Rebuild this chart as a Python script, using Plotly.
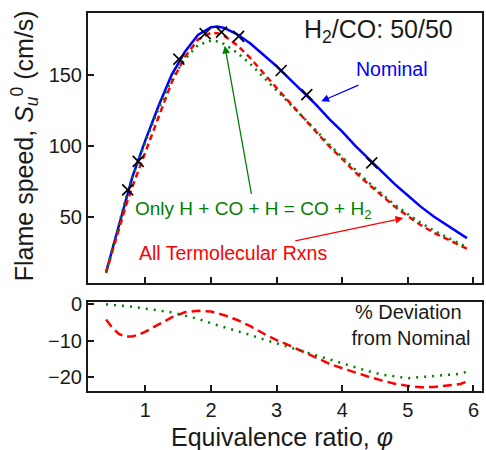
import plotly.graph_objects as go

# ---- data ----
phi = [0.4, 0.5, 0.6, 0.7, 0.8, 0.9, 1.0, 1.2, 1.4, 1.6, 1.8, 2.0, 2.1, 2.2, 2.4,
       2.6, 2.8, 3.0, 3.2, 3.4, 3.6, 3.8, 4.0, 4.2, 4.4, 4.6, 4.8, 5.0, 5.2, 5.4,
       5.6, 5.8, 5.9]
s_nominal = [11, 28, 45, 63, 78, 91, 104, 128, 150, 166, 178, 183.5, 184, 183, 178.5,
             172, 164, 156, 147, 138, 129, 119, 110, 100, 91, 82, 73, 65, 57, 50,
             44, 38, 35]
s_termol = [10.5, 26.2, 41.3, 57.5, 71.1, 83.4, 96.2, 121, 144.6, 162.4, 174.8, 179.5, 179.2, 177.5, 170.8,
            161.7, 150.9, 140.7, 130.4, 120.1, 110, 99.7, 90.8, 81.3, 73, 64.9, 57.2, 50.5, 44.1, 38.7,
            34.2, 29.7, 27.6]
s_hco = [11, 28, 44.9, 62.7, 77.5, 90.1, 102.8, 125.8, 146.7, 161, 170.9, 174, 173.5, 171.7, 165.5,
         157.6, 148.3, 139.3, 129.7, 120.2, 110.9, 100.9, 92.1, 82.7, 74.3, 66.3, 58.5, 51.9, 45.7, 40.2,
         35.5, 30.8, 28.6]
dev_termol = [-4.2, -6.5, -8.2, -8.8, -8.8, -8.3, -7.5, -5.5, -3.6, -2.2, -1.8, -2.0, -2.4, -3.0, -4.3,
              -6.0, -8.0, -9.8, -11.3, -13.0, -14.7, -16.2, -17.5, -18.7, -19.8, -20.8, -21.7, -22.3, -22.7, -22.6,
              -22.3, -21.8, -21.1]
dev_hco = [0, -0.1, -0.3, -0.5, -0.7, -1.0, -1.2, -1.7, -2.2, -3.0, -4.0, -5.2, -5.7, -6.2, -7.3,
           -8.4, -9.6, -10.7, -11.8, -12.9, -14.0, -15.2, -16.3, -17.3, -18.3, -19.2, -19.8, -20.2, -19.9, -19.6,
           -19.4, -19.0, -18.4]
exp_phi = [0.73, 0.89, 1.51, 1.91, 2.16, 2.42, 3.07, 3.46, 4.45]
exp_s = [69, 89, 161, 179, 180, 177, 153, 136, 88]

top_yticks = [50, 100, 150]
bot_yticks = [0, -10, -20]
xticks = [1, 2, 3, 4, 5, 6]

FONT = "Liberation Sans, Arial, sans-serif"
BLUE, RED, GREEN = "#0000ff", "#ff0000", "#008000"
INK = "#1a1a1a"

fig = go.Figure()
# top panel
fig.add_trace(go.Scatter(x=phi, y=s_nominal, mode="lines", line=dict(color=BLUE, width=2.5),
                         xaxis="x", yaxis="y", showlegend=False))
fig.add_trace(go.Scatter(x=phi, y=s_termol, mode="lines", line=dict(color=RED, width=2.5, dash="6px,4px"),
                         xaxis="x", yaxis="y", showlegend=False))
fig.add_trace(go.Scatter(x=phi, y=s_hco, mode="lines", line=dict(color=GREEN, width=2.5, dash="2px,5px"),
                         xaxis="x", yaxis="y", showlegend=False))
fig.add_trace(go.Scatter(x=exp_phi, y=exp_s, mode="markers",
                         marker=dict(symbol="x-thin", size=11, line=dict(color="black", width=1.6)),
                         xaxis="x", yaxis="y", showlegend=False))
# bottom panel
fig.add_trace(go.Scatter(x=phi, y=dev_termol, mode="lines", line=dict(color=RED, width=2.5, dash="9px,5px"),
                         xaxis="x2", yaxis="y2", showlegend=False))
fig.add_trace(go.Scatter(x=phi, y=dev_hco, mode="lines", line=dict(color=GREEN, width=2.5, dash="2px,6px"),
                         xaxis="x2", yaxis="y2", showlegend=False))

axcommon = dict(showline=True, mirror=True, linecolor=INK, linewidth=2, ticks="inside",
                ticklen=6, tickwidth=1.5, tickcolor=INK, showgrid=False, zeroline=False,
                tickfont=dict(family=FONT, size=20, color=INK))

fig.update_layout(
    width=486, height=450, autosize=False,
    margin=dict(l=88, r=2, t=13, b=59),
    paper_bgcolor="white", plot_bgcolor="white",
    font=dict(family=FONT, color=INK),
    xaxis=dict(domain=[0, 1], range=[0.125, 6.13], tickvals=xticks, showticklabels=False,
               anchor="y", **axcommon),
    yaxis=dict(domain=[0.2857, 1], range=[3.4, 193.5], tickvals=top_yticks, anchor="x", **axcommon),
    xaxis2=dict(domain=[0, 1], range=[0.125, 6.13], tickvals=xticks, anchor="y2", **axcommon),
    yaxis2=dict(domain=[0, 0.2354], range=[-23.7, 0.6], tickvals=bot_yticks, anchor="x2", **axcommon),
)

ann = []
# axis titles
ann.append(dict(text="Flame speed, <i>S</i><sub><i>u</i></sub><sup>0</sup> (cm/s)", xref="paper", yref="paper",
                x=-0.16, y=0.65, textangle=-90, showarrow=False, xanchor="center", yanchor="middle",
                font=dict(size=25, family=FONT, color=INK)))
ann.append(dict(text="Equivalence ratio, <i>φ</i>", xref="paper", yref="paper",
                x=0.492, y=-0.122, showarrow=False, xanchor="center", yanchor="middle",
                font=dict(size=25, family=FONT, color=INK)))
# panel labels
ann.append(dict(text="H<sub>2</sub>/CO: 50/50", xref="x", yref="y", x=4.55, y=181, showarrow=False,
                xanchor="center", yanchor="middle", font=dict(size=25, family=FONT, color=INK)))
ann.append(dict(text="% Deviation<br> from Nominal", xref="x2", yref="y2", x=5.0, y=-5.8, showarrow=False,
                xanchor="center", yanchor="middle", align="center",
                font=dict(size=20, family=FONT, color=INK)))
# curve labels with arrows
ann.append(dict(text="Nominal", xref="x", yref="y", x=4.76, y=154, showarrow=False,
                xanchor="center", yanchor="middle", font=dict(size=19.5, family=FONT, color=BLUE)))
ann.append(dict(x=3.68, y=131.3, ax=4.27, ay=143.2, xref="x", yref="y", axref="x", ayref="y",
                showarrow=True, arrowhead=2, arrowsize=1.2, arrowwidth=1.3, arrowcolor=BLUE, text=""))
ann.append(dict(text="Only H + CO + H = CO + H<sub>2</sub>", xref="x", yref="y", x=2.64, y=54.5,
                showarrow=False, xanchor="center", yanchor="middle",
                font=dict(size=19, family=FONT, color=GREEN)))
ann.append(dict(x=2.21, y=170.5, ax=2.62, ay=65, xref="x", yref="y", axref="x", ayref="y",
                showarrow=True, arrowhead=2, arrowsize=1.2, arrowwidth=1.3, arrowcolor=GREEN, text=""))
ann.append(dict(text="All Termolecular Rxns", xref="x", yref="y", x=2.33, y=24.6, showarrow=False,
                xanchor="center", yanchor="middle", font=dict(size=19.5, family=FONT, color=RED)))
ann.append(dict(x=4.93, y=49.1, ax=3.26, ay=32.9, xref="x", yref="y", axref="x", ayref="y",
                showarrow=True, arrowhead=2, arrowsize=1.2, arrowwidth=1.3, arrowcolor=RED, text=""))
fig.update_layout(annotations=ann)

fig.write_html("out.html", config={"displayModeBar": False, "responsive": False},
               post_script="document.body.style.margin='0';document.documentElement.style.overflow='hidden';")
